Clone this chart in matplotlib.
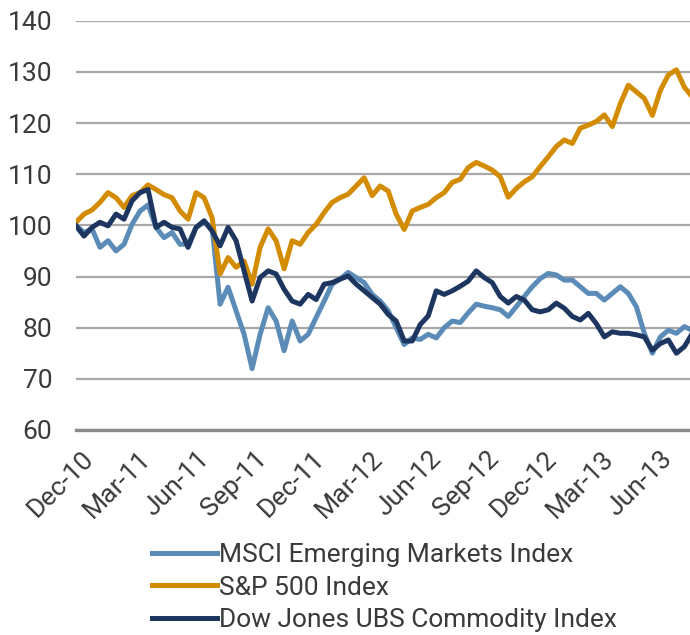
import numpy as np
import pandas as pd
import matplotlib
matplotlib.use("Agg")
import matplotlib.pyplot as plt
import matplotlib.dates as mdates

plt.rcParams['font.family'] = ['Roboto', 'DejaVu Sans']

# index levels (base 100), read roughly every ~12.6 days
msci_em = [100, 98.6, 99.3, 95.7, 97, 95, 96.3, 100.2, 102.8, 104, 99.6, 97.6, 98.6,
           96.3, 96.3, 99.6, 100.6, 99.6, 84.6, 87.9, 83.3, 78.7, 72, 78.7, 83.9, 81.3,
           75.5, 81.3, 77.4, 78.7, 82, 85.2, 88.5, 89.5, 90.8, 89.8, 88.8, 86.5, 85.2,
           83.3, 80, 76.7, 78, 77.7, 78.7, 78, 80, 81.3, 81, 82.9, 84.6, 84.2, 83.9,
           83.5, 82.2, 84.1, 86.1, 88, 89.6, 90.6, 90.3, 89.3, 89.3, 88, 86.7, 86.7,
           85.4, 86.7, 88, 86.7, 84.1, 78.9, 75, 78.2, 79.5, 78.9, 80.2, 79.5]
sp500 = [100.6, 102.2, 103, 104.5, 106.4, 105.4, 103.5, 105.8, 106.4, 107.9, 107, 106,
         105.4, 102.8, 101.2, 106.4, 105.4, 101.5, 90.5, 93.7, 91.8, 93, 88.5, 95.7,
         99.3, 97, 91.5, 97, 96.3, 98.6, 100.2, 102.5, 104.5, 105.4, 106.1, 107.7,
         109.3, 105.8, 107.7, 106.7, 102.2, 99.2, 102.8, 103.5, 104.1, 105.4, 106.4,
         108.4, 109, 111.3, 112.3, 111.6, 110.8, 109.5, 105.5, 107.2, 108.5, 109.5,
         111.5, 113.4, 115.4, 116.7, 116, 119, 119.6, 120.3, 121.6, 119.3, 123.8,
         127.4, 126.1, 124.8, 121.5, 126.4, 129.4, 130.4, 127, 125.1]
djubs = [99.9, 97.9, 99.6, 100.6, 99.9, 102.2, 101.2, 104.8, 106.4, 107, 99.6, 100.6,
         99.6, 99.3, 95.7, 99.6, 100.9, 98.9, 96, 99.6, 97, 91.1, 85.2, 89.8, 91.1,
         90.5, 87.5, 85.2, 84.6, 86.5, 85.5, 88.5, 88.8, 89.5, 90.1, 88.5, 87.2, 85.9,
         84.6, 82.6, 81.3, 77.4, 77.4, 80.6, 82.3, 87.2, 86.5, 87.2, 88.1, 89.1, 91.1,
         89.8, 88.8, 86.1, 84.8, 86.1, 85.4, 83.5, 83.1, 83.5, 84.8, 83.8, 82.2, 81.5,
         82.8, 80.8, 78.2, 79.2, 78.9, 78.9, 78.6, 78.2, 75.6, 76.9, 77.6, 75, 76.3, 78.9]

labels = ['MSCI Emerging Markets Index', 'S&P 500 Index', 'Dow Jones UBS Commodity Index']
colors = ['#5b8cb8', '#d38b00', '#1d365f']
tick_dates = pd.date_range('2010-12-01', '2013-06-01', freq='3MS')

start = pd.Timestamp('2010-11-23')
dates = start + pd.to_timedelta(np.arange(len(sp500)) * 12.62, unit='D')

fig = plt.figure(figsize=(6.9, 6.35), dpi=100)
ax = fig.add_axes([76 / 690, 1 - 430 / 635, 614 / 690, 409.3 / 635])

for series, lab, col in zip([msci_em, sp500, djubs], labels, colors):
    ax.plot(dates, series, color=col, lw=3.6, label=lab, solid_joinstyle='round')

ax.set_ylim(60, 140)
ax.set_xlim(start, start + pd.Timedelta(days=968))
ax.set_yticks(range(60, 141, 10))
ax.yaxis.grid(True, color='#a8a8a8', lw=1.6)
ax.set_axisbelow(True)
for s in ['top', 'right', 'left']:
    ax.spines[s].set_visible(False)
ax.spines['bottom'].set_color('#8a8a8a')
ax.spines['bottom'].set_linewidth(2.4)

ax.set_xticks(tick_dates)
ax.xaxis.set_major_formatter(mdates.DateFormatter('%b-%y'))
ax.tick_params(axis='both', length=0, labelsize=19, labelcolor='#3a3a3a')
ax.tick_params(axis='y', pad=17)
ax.tick_params(axis='x', pad=12)
for t in ax.get_xticklabels():
    t.set_rotation(45)
    t.set_ha('right')
    t.set_va('top')
    t.set_rotation_mode('anchor')

leg = fig.legend(loc='upper left', bbox_to_anchor=(152 / 690, 1 - 543 / 635),
                 frameon=False, fontsize=19, handlelength=2.45, handletextpad=0.1,
                 labelspacing=0.33, borderaxespad=0, borderpad=0)
for t in leg.get_texts():
    t.set_color('#3a3a3a')
for l in leg.get_lines():
    l.set_linewidth(3.6)

fig.savefig('out.png', dpi=100)
